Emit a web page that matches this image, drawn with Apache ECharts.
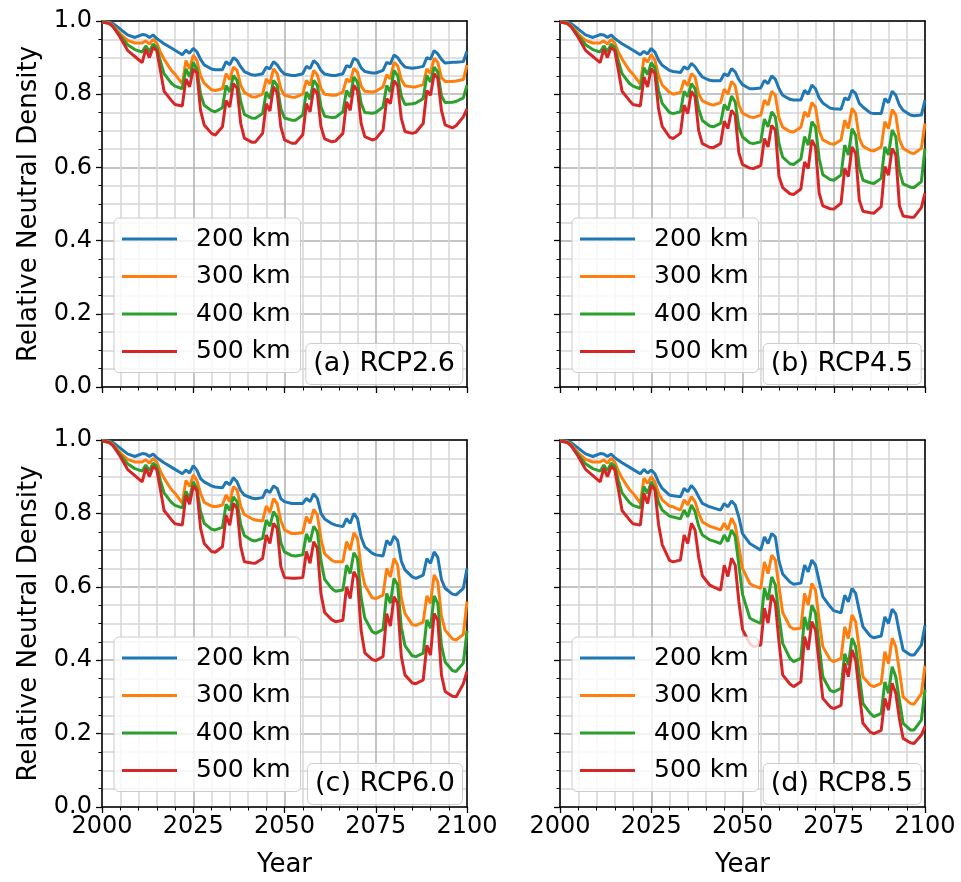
<!DOCTYPE html>
<html>
<head>
<meta charset="utf-8">
<title>Relative Neutral Density</title>
<script src="https://cdn.jsdelivr.net/npm/echarts@6.0.0/dist/echarts.min.js"></script>
<style>
  html, body { margin: 0; padding: 0; background: #fff; }
  #chart { width: 961px; height: 882px; }
</style>
</head>
<body>
<div id="chart"></div>
<script>
// Vertex years of the curves (solar-cycle kinks), shared by every series.
const years = [
  2000, 2002, 2003, 2005, 2007, 2009, 2011,
  2012, 2013, 2014, 2015, 2016, 2017, 2019, 2020, 2022,
  2023, 2024, 2025, 2026, 2027, 2028, 2030, 2031, 2033,
  2034, 2035, 2036, 2037, 2038, 2039, 2041, 2042, 2044,
  2045, 2046, 2047, 2048, 2049, 2050, 2052, 2053, 2055,
  2056, 2057, 2058, 2059, 2060, 2061, 2063, 2064, 2066,
  2067, 2068, 2069, 2070, 2071, 2072, 2074, 2075, 2077,
  2078, 2079, 2080, 2081, 2082, 2083, 2085, 2086, 2088,
  2089, 2090, 2091, 2092, 2093, 2094, 2096, 2097, 2099,
  2100,
]

const altitudes = ['200 km', '300 km', '400 km', '500 km']
const panelTags = ['(a) RCP2.6', '(b) RCP4.5', '(c) RCP6.0', '(d) RCP8.5']
const xTicks = [2000, 2025, 2050, 2075, 2100]
const yTicks = [0.0, 0.2, 0.4, 0.6, 0.8, 1.0]

// 2000-2022: common to all scenarios
const hist200 = [0.998, 0.997, 0.993, 0.978, 0.962, 0.955, 0.963, 0.962, 0.955, 0.962, 0.952, 0.945, 0.938, 0.926, 0.920, 0.908]
const hist300 = [0.998, 0.995, 0.988, 0.965, 0.947, 0.940, 0.940, 0.946, 0.937, 0.950, 0.940, 0.915, 0.896, 0.865, 0.855, 0.828]
const hist400 = [0.998, 0.994, 0.985, 0.960, 0.935, 0.922, 0.915, 0.932, 0.916, 0.937, 0.928, 0.890, 0.856, 0.830, 0.822, 0.815]
const hist500 = [0.997, 0.993, 0.985, 0.955, 0.920, 0.903, 0.886, 0.923, 0.900, 0.928, 0.919, 0.865, 0.808, 0.783, 0.772, 0.768]

// 2023-2100 per scenario
const rcp26_200 = hist200.concat([
  0.920, 0.912, 0.925, 0.916, 0.895, 0.880, 0.869, 0.867, 0.867,
  0.889, 0.880, 0.900, 0.892, 0.875, 0.862, 0.853, 0.852, 0.856,
  0.874, 0.869, 0.889, 0.880, 0.865, 0.855, 0.851, 0.851, 0.856,
  0.876, 0.870, 0.892, 0.883, 0.865, 0.855, 0.851, 0.851, 0.856,
  0.878, 0.874, 0.898, 0.892, 0.872, 0.862, 0.858, 0.858, 0.865,
  0.887, 0.883, 0.907, 0.900, 0.885, 0.874, 0.871, 0.872, 0.876,
  0.900, 0.896, 0.919, 0.910, 0.895, 0.885, 0.887, 0.887, 0.889,
  0.917])
const rcp26_300 = hist300.concat([
  0.892, 0.869, 0.907, 0.892, 0.850, 0.830, 0.812, 0.810, 0.815,
  0.856, 0.840, 0.874, 0.865, 0.825, 0.805, 0.793, 0.792, 0.800,
  0.842, 0.828, 0.869, 0.856, 0.815, 0.797, 0.792, 0.792, 0.800,
  0.838, 0.824, 0.865, 0.853, 0.815, 0.800, 0.797, 0.797, 0.806,
  0.842, 0.833, 0.871, 0.860, 0.822, 0.808, 0.806, 0.808, 0.820,
  0.853, 0.842, 0.887, 0.878, 0.840, 0.823, 0.820, 0.820, 0.826,
  0.869, 0.856, 0.898, 0.887, 0.845, 0.835, 0.835, 0.836, 0.840,
  0.880])
const rcp26_400 = hist400.concat([
  0.869, 0.847, 0.887, 0.869, 0.800, 0.770, 0.755, 0.752, 0.763,
  0.824, 0.806, 0.851, 0.838, 0.780, 0.745, 0.735, 0.734, 0.747,
  0.806, 0.788, 0.838, 0.824, 0.760, 0.735, 0.729, 0.729, 0.743,
  0.806, 0.786, 0.838, 0.824, 0.765, 0.740, 0.736, 0.737, 0.752,
  0.810, 0.792, 0.847, 0.833, 0.775, 0.750, 0.748, 0.750, 0.765,
  0.824, 0.806, 0.865, 0.851, 0.795, 0.772, 0.774, 0.776, 0.788,
  0.851, 0.833, 0.874, 0.860, 0.795, 0.777, 0.778, 0.780, 0.790,
  0.825])
const rcp26_500 = hist500.concat([
  0.842, 0.820, 0.869, 0.858, 0.756, 0.716, 0.693, 0.688, 0.711,
  0.783, 0.765, 0.829, 0.817, 0.720, 0.680, 0.669, 0.669, 0.693,
  0.774, 0.754, 0.820, 0.804, 0.711, 0.675, 0.666, 0.666, 0.689,
  0.774, 0.752, 0.815, 0.802, 0.711, 0.678, 0.670, 0.672, 0.693,
  0.779, 0.756, 0.824, 0.810, 0.720, 0.684, 0.675, 0.678, 0.702,
  0.788, 0.774, 0.837, 0.824, 0.734, 0.698, 0.693, 0.696, 0.720,
  0.810, 0.797, 0.856, 0.843, 0.756, 0.716, 0.708, 0.714, 0.738,
  0.760])

const rcp45_200 = hist200.concat([
  0.917, 0.910, 0.925, 0.915, 0.893, 0.879, 0.865, 0.862, 0.859,
  0.875, 0.868, 0.884, 0.875, 0.860, 0.847, 0.838, 0.837, 0.837,
  0.856, 0.850, 0.870, 0.861, 0.840, 0.826, 0.815, 0.815, 0.817,
  0.838, 0.829, 0.850, 0.841, 0.815, 0.797, 0.786, 0.784, 0.784,
  0.811, 0.800, 0.825, 0.815, 0.790, 0.776, 0.762, 0.760, 0.759,
  0.790, 0.784, 0.811, 0.802, 0.775, 0.765, 0.749, 0.747, 0.747,
  0.788, 0.777, 0.808, 0.797, 0.770, 0.756, 0.743, 0.741, 0.743,
  0.784])
const rcp45_300 = hist300.concat([
  0.899, 0.888, 0.908, 0.893, 0.850, 0.825, 0.805, 0.800, 0.805,
  0.838, 0.823, 0.856, 0.847, 0.800, 0.782, 0.773, 0.770, 0.777,
  0.814, 0.800, 0.835, 0.823, 0.770, 0.748, 0.738, 0.736, 0.743,
  0.784, 0.770, 0.808, 0.797, 0.735, 0.710, 0.698, 0.697, 0.710,
  0.752, 0.738, 0.777, 0.765, 0.700, 0.675, 0.665, 0.663, 0.675,
  0.729, 0.706, 0.761, 0.747, 0.680, 0.658, 0.647, 0.645, 0.656,
  0.725, 0.706, 0.758, 0.743, 0.675, 0.652, 0.640, 0.638, 0.652,
  0.720])
const rcp45_400 = hist400.concat([
  0.872, 0.854, 0.886, 0.872, 0.810, 0.775, 0.750, 0.747, 0.752,
  0.808, 0.793, 0.829, 0.815, 0.760, 0.728, 0.713, 0.711, 0.720,
  0.772, 0.756, 0.795, 0.779, 0.710, 0.683, 0.667, 0.665, 0.670,
  0.732, 0.711, 0.752, 0.738, 0.665, 0.628, 0.610, 0.608, 0.623,
  0.684, 0.661, 0.725, 0.711, 0.625, 0.580, 0.567, 0.565, 0.579,
  0.661, 0.634, 0.706, 0.688, 0.600, 0.565, 0.558, 0.556, 0.570,
  0.656, 0.634, 0.702, 0.684, 0.590, 0.555, 0.546, 0.545, 0.561,
  0.652])
const rcp45_500 = hist500.concat([
  0.847, 0.820, 0.870, 0.856, 0.760, 0.712, 0.683, 0.679, 0.693,
  0.770, 0.747, 0.808, 0.793, 0.700, 0.665, 0.655, 0.654, 0.665,
  0.726, 0.706, 0.756, 0.743, 0.640, 0.608, 0.598, 0.597, 0.605,
  0.679, 0.656, 0.715, 0.702, 0.575, 0.545, 0.528, 0.526, 0.541,
  0.615, 0.597, 0.675, 0.656, 0.530, 0.495, 0.487, 0.486, 0.502,
  0.597, 0.575, 0.656, 0.638, 0.510, 0.480, 0.476, 0.475, 0.493,
  0.602, 0.579, 0.652, 0.634, 0.495, 0.467, 0.464, 0.464, 0.490,
  0.530])

const rcp60_200 = hist200.concat([
  0.918, 0.910, 0.930, 0.918, 0.895, 0.886, 0.875, 0.872, 0.870,
  0.886, 0.878, 0.897, 0.886, 0.862, 0.850, 0.842, 0.840, 0.843,
  0.864, 0.857, 0.875, 0.868, 0.840, 0.832, 0.827, 0.827, 0.827,
  0.841, 0.832, 0.853, 0.841, 0.800, 0.785, 0.772, 0.768, 0.764,
  0.786, 0.773, 0.800, 0.786, 0.735, 0.709, 0.692, 0.687, 0.684,
  0.726, 0.714, 0.738, 0.726, 0.670, 0.646, 0.627, 0.623, 0.632,
  0.677, 0.664, 0.695, 0.680, 0.620, 0.596, 0.580, 0.578, 0.596,
  0.650])
const rcp60_300 = hist300.concat([
  0.890, 0.873, 0.905, 0.890, 0.855, 0.830, 0.820, 0.818, 0.823,
  0.850, 0.832, 0.873, 0.864, 0.820, 0.797, 0.786, 0.782, 0.779,
  0.820, 0.803, 0.840, 0.827, 0.780, 0.755, 0.745, 0.745, 0.747,
  0.791, 0.773, 0.811, 0.796, 0.730, 0.690, 0.672, 0.668, 0.668,
  0.723, 0.700, 0.747, 0.732, 0.650, 0.605, 0.570, 0.568, 0.577,
  0.650, 0.627, 0.677, 0.659, 0.570, 0.527, 0.497, 0.495, 0.504,
  0.575, 0.555, 0.632, 0.614, 0.520, 0.482, 0.458, 0.455, 0.470,
  0.560])
const rcp60_400 = hist400.concat([
  0.860, 0.840, 0.886, 0.868, 0.805, 0.773, 0.757, 0.755, 0.762,
  0.825, 0.808, 0.845, 0.832, 0.770, 0.740, 0.727, 0.725, 0.732,
  0.782, 0.765, 0.805, 0.790, 0.720, 0.695, 0.685, 0.684, 0.687,
  0.744, 0.722, 0.765, 0.750, 0.670, 0.620, 0.595, 0.588, 0.591,
  0.659, 0.636, 0.693, 0.677, 0.570, 0.515, 0.478, 0.473, 0.484,
  0.582, 0.555, 0.623, 0.605, 0.490, 0.440, 0.412, 0.410, 0.419,
  0.510, 0.487, 0.575, 0.555, 0.440, 0.395, 0.372, 0.369, 0.392,
  0.480])
const rcp60_500 = hist500.concat([
  0.850, 0.825, 0.875, 0.862, 0.760, 0.718, 0.696, 0.694, 0.709,
  0.795, 0.768, 0.827, 0.814, 0.710, 0.668, 0.665, 0.664, 0.677,
  0.741, 0.718, 0.773, 0.759, 0.655, 0.625, 0.623, 0.623, 0.625,
  0.696, 0.664, 0.723, 0.705, 0.580, 0.530, 0.510, 0.505, 0.509,
  0.600, 0.568, 0.641, 0.623, 0.480, 0.420, 0.402, 0.399, 0.410,
  0.527, 0.493, 0.573, 0.555, 0.410, 0.360, 0.338, 0.336, 0.346,
  0.441, 0.414, 0.527, 0.509, 0.360, 0.315, 0.302, 0.300, 0.336,
  0.370])

const rcp85_200 = hist200.concat([
  0.920, 0.910, 0.918, 0.908, 0.885, 0.868, 0.850, 0.848, 0.845,
  0.868, 0.859, 0.876, 0.864, 0.845, 0.827, 0.818, 0.815, 0.809,
  0.827, 0.818, 0.834, 0.823, 0.790, 0.745, 0.718, 0.712, 0.700,
  0.736, 0.718, 0.745, 0.736, 0.670, 0.635, 0.613, 0.607, 0.610,
  0.659, 0.641, 0.673, 0.659, 0.615, 0.573, 0.546, 0.535, 0.529,
  0.577, 0.559, 0.596, 0.582, 0.535, 0.491, 0.466, 0.461, 0.466,
  0.518, 0.500, 0.539, 0.526, 0.475, 0.428, 0.414, 0.414, 0.441,
  0.495])
const rcp85_300 = hist300.concat([
  0.896, 0.882, 0.900, 0.886, 0.855, 0.837, 0.820, 0.818, 0.809,
  0.837, 0.823, 0.846, 0.832, 0.800, 0.777, 0.765, 0.762, 0.755,
  0.773, 0.755, 0.787, 0.768, 0.710, 0.650, 0.609, 0.603, 0.596,
  0.668, 0.636, 0.686, 0.673, 0.600, 0.530, 0.491, 0.485, 0.487,
  0.582, 0.550, 0.609, 0.591, 0.510, 0.437, 0.402, 0.396, 0.405,
  0.491, 0.459, 0.523, 0.505, 0.430, 0.355, 0.332, 0.328, 0.337,
  0.423, 0.391, 0.460, 0.437, 0.370, 0.300, 0.282, 0.280, 0.309,
  0.385])
const rcp85_400 = hist400.concat([
  0.873, 0.855, 0.886, 0.868, 0.830, 0.809, 0.793, 0.790, 0.785,
  0.809, 0.791, 0.823, 0.805, 0.765, 0.741, 0.728, 0.725, 0.718,
  0.741, 0.723, 0.755, 0.737, 0.660, 0.580, 0.515, 0.509, 0.500,
  0.596, 0.564, 0.627, 0.605, 0.520, 0.446, 0.405, 0.396, 0.405,
  0.518, 0.482, 0.550, 0.528, 0.440, 0.355, 0.318, 0.314, 0.323,
  0.418, 0.387, 0.460, 0.437, 0.360, 0.282, 0.255, 0.246, 0.255,
  0.341, 0.310, 0.382, 0.355, 0.290, 0.228, 0.210, 0.210, 0.237,
  0.320])
const rcp85_500 = hist500.concat([
  0.855, 0.827, 0.877, 0.864, 0.770, 0.715, 0.672, 0.668, 0.673,
  0.741, 0.718, 0.773, 0.755, 0.680, 0.630, 0.605, 0.600, 0.591,
  0.659, 0.628, 0.678, 0.659, 0.560, 0.484, 0.445, 0.437, 0.441,
  0.542, 0.501, 0.578, 0.555, 0.450, 0.360, 0.335, 0.328, 0.341,
  0.464, 0.428, 0.505, 0.482, 0.390, 0.296, 0.273, 0.268, 0.277,
  0.391, 0.355, 0.428, 0.400, 0.310, 0.228, 0.204, 0.200, 0.209,
  0.296, 0.264, 0.337, 0.310, 0.240, 0.187, 0.175, 0.173, 0.196,
  0.220])

const panelData = [
  [rcp26_200, rcp26_300, rcp26_400, rcp26_500],
  [rcp45_200, rcp45_300, rcp45_400, rcp45_500],
  [rcp60_200, rcp60_300, rcp60_400, rcp60_500],
  [rcp85_200, rcp85_300, rcp85_400, rcp85_500],
]

// matplotlib tab10
const colors = ['#1f77b4', '#ff7f0e', '#2ca02c', '#d62728']
const FONT = 'DejaVu Sans'

const W = 961, H = 882
const grids = [
  { left: 102, top: 21, width: 365, height: 366 },
  { left: 560, top: 21, width: 365, height: 366 },
  { left: 102, top: 440, width: 365, height: 367 },
  { left: 560, top: 440, width: 365, height: 367 },
]

const black = { color: '#000', width: 1.5 }
const majorGrid = { color: '#b0b0b0', width: 1.5 }
const minorGrid = { color: '#d6d6d6', width: 1.5 }

const xAxes = []
const yAxes = []
const series = []
const legends = []
const titles = []

grids.forEach((g, i) => {
  const bottomRow = i >= 2
  const leftCol = i % 2 === 0

  xAxes.push({
    type: 'value', gridIndex: i, min: xTicks[0], max: xTicks[xTicks.length - 1],
    interval: xTicks[1] - xTicks[0],
    axisLine: { show: true, onZero: false, lineStyle: black },
    axisTick: { show: true, length: 6, lineStyle: { color: '#000', width: 1.3 } },
    minorTick: { show: true, splitNumber: 5, length: 3.5, lineStyle: { color: '#000', width: 1 } },
    splitLine: { show: true, lineStyle: majorGrid },
    minorSplitLine: { show: true, lineStyle: minorGrid },
    axisLabel: {
      show: bottomRow, fontSize: 24, color: '#000', fontFamily: FONT, margin: 8,
      formatter: (v) => String(v),
    },
    name: bottomRow ? 'Year' : '',
    nameLocation: 'middle', nameGap: 45,
    nameTextStyle: { fontSize: 26, color: '#000', fontFamily: FONT },
  })
  yAxes.push({
    type: 'value', gridIndex: i, min: yTicks[0], max: yTicks[yTicks.length - 1],
    interval: yTicks[1] - yTicks[0],
    axisLine: { show: true, onZero: false, lineStyle: black },
    axisTick: { show: true, length: 6, lineStyle: { color: '#000', width: 1.3 } },
    minorTick: { show: true, splitNumber: 4, length: 3.5, lineStyle: { color: '#000', width: 1 } },
    splitLine: { show: true, lineStyle: majorGrid },
    minorSplitLine: { show: true, lineStyle: minorGrid },
    axisLabel: {
      show: leftCol, fontSize: 24, color: '#000', fontFamily: FONT, margin: 10,
      formatter: (v) => v.toFixed(1),
    },
    name: leftCol ? 'Relative Neutral Density' : '',
    nameLocation: 'middle', nameGap: 60, nameRotate: 90,
    nameTextStyle: { fontSize: 26, color: '#000', fontFamily: FONT },
  })

  panelData[i].forEach((vals, k) => {
    series.push({
      type: 'line', name: altitudes[k],
      xAxisIndex: i, yAxisIndex: i,
      data: years.map((yr, j) => [yr, vals[j]]),
      symbol: 'none', showSymbol: false,
      lineStyle: { color: colors[k], width: 3 },
      itemStyle: { color: colors[k] },
      animation: false,
    })
  })

  legends.push({
    data: altitudes, orient: 'vertical',
    left: g.left + 12, top: g.top + 197,
    icon: 'rect', itemWidth: 55, itemHeight: 3, itemGap: 7.5,
    padding: [6, 10, 6, 8],
    backgroundColor: 'rgba(255,255,255,0.8)',
    borderColor: '#cccccc', borderWidth: 1, borderRadius: 5,
    selectedMode: false,
    textStyle: { fontSize: 25, lineHeight: 30, color: '#000', fontFamily: FONT, padding: [0, 0, 0, 14] },
  })

  titles.push({
    text: panelTags[i],
    right: W - (g.left + g.width) + 4,
    bottom: H - (g.top + g.height) + 2,
    padding: [5, 8],
    backgroundColor: 'rgba(255,255,255,0.8)',
    borderColor: '#cccccc', borderWidth: 1, borderRadius: 5,
    textStyle: { fontSize: 27, lineHeight: 32, fontWeight: 'normal', color: '#000', fontFamily: FONT },
  })
})

// top and right spines
grids.forEach((g, i) => {
  xAxes.push({
    type: 'value', gridIndex: i, position: 'top', min: xTicks[0], max: xTicks[xTicks.length - 1],
    axisLine: { show: true, onZero: false, lineStyle: black },
    axisTick: { show: false }, axisLabel: { show: false }, splitLine: { show: false },
  })
  yAxes.push({
    type: 'value', gridIndex: i, position: 'right', min: yTicks[0], max: yTicks[yTicks.length - 1],
    axisLine: { show: true, onZero: false, lineStyle: black },
    axisTick: { show: false }, axisLabel: { show: false }, splitLine: { show: false },
  })
})

const chart = echarts.init(document.getElementById('chart'), null, { renderer: 'canvas' })
chart.setOption({
  animation: false,
  backgroundColor: '#fff',
  title: titles,
  legend: legends,
  grid: grids,
  xAxis: xAxes,
  yAxis: yAxes,
  series: series,
})
</script>
</body>
</html>
